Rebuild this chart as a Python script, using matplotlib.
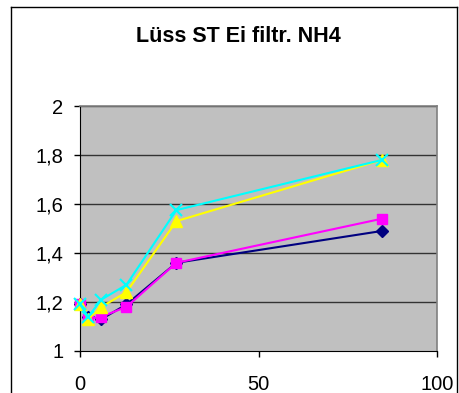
import matplotlib
matplotlib.use("Agg")
import matplotlib.pyplot as plt
from matplotlib.ticker import FuncFormatter
from matplotlib.lines import Line2D

plt.rcParams['font.family'] = ['Liberation Sans', 'DejaVu Sans']

# sampling times and measured values
x = [0, 2.3, 6, 13, 27, 84.6]
s1 = [1.19, 1.14, 1.13, 1.19, 1.36, 1.49]
s2 = [1.19, 1.13, 1.14, 1.18, 1.36, 1.54]
s3 = [1.19, 1.13, 1.18, 1.24, 1.53, 1.78]
s4 = [1.19, 1.14, 1.21, 1.27, 1.575, 1.78]

fig = plt.figure(figsize=(4.59, 3.93), dpi=100)

# outer chart frame (open at the bottom)
top = 1 - 7/393
fig.add_artist(Line2D([11/459, 11/459], [0, top], transform=fig.transFigure, color='black', lw=1))
fig.add_artist(Line2D([11/459, 457/459], [top, top], transform=fig.transFigure, color='black', lw=1))
fig.add_artist(Line2D([457/459, 457/459], [0, top], transform=fig.transFigure, color='black', lw=1))

ax = fig.add_axes([80/459, 42/393, 357/459, 245/393])
ax.set_facecolor('#C0C0C0')

ax.plot(x, s1, color='#000080', marker='D', markersize=6, lw=1.5, zorder=3, clip_on=False)
ax.plot(x, s2, color='#FF00FF', marker='s', markersize=7, lw=1.5, zorder=3, clip_on=False)
ax.plot(x, s3, color='#FFFF00', marker='^', markersize=8, lw=1.5, zorder=3, clip_on=False)
ax.plot(x, s4, color='#00FFFF', marker='x', markersize=9, mew=1.5, lw=1.5, zorder=3, clip_on=False)

ax.set_xlim(0, 100)
ax.set_ylim(1, 2)
ax.set_xticks([0, 50, 100])
ax.set_yticks([1, 1.2, 1.4, 1.6, 1.8, 2])
ax.yaxis.set_major_formatter(FuncFormatter(lambda v, p: ('%g' % round(v, 1)).replace('.', ',')))

for yv in [1.2, 1.4, 1.6, 1.8, 2.0]:
    ax.axhline(yv, color='#333333', lw=1, zorder=1)

for side in ['top', 'right']:
    ax.spines[side].set_color('#808080')
    ax.spines[side].set_linewidth(1.2)
ax.spines['left'].set_color('black')
ax.spines['bottom'].set_color('black')

ax.tick_params(axis='both', direction='out', length=4, width=1, labelsize=14.5, colors='black')
ax.tick_params(axis='y', pad=8)
ax.tick_params(axis='x', pad=13)

fig.text(238/459, 1 - 42/393, 'Lüss ST Ei filtr. NH4', ha='center', va='baseline',
         fontsize=15.5, fontweight='bold')

fig.savefig('out.png', dpi=100)
